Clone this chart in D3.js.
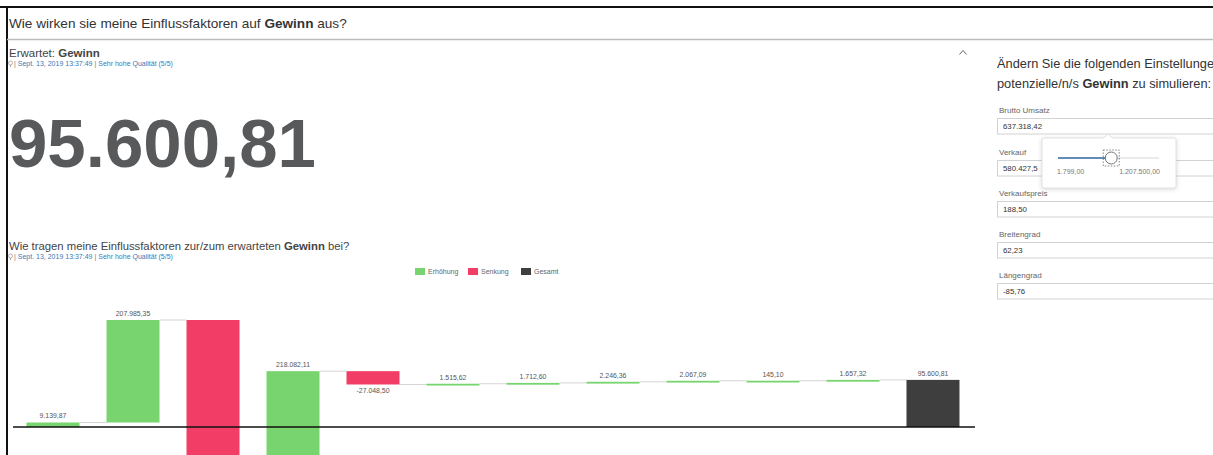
<!DOCTYPE html>
<html>
<head>
<meta charset="utf-8">
<script src="https://cdn.jsdelivr.net/npm/d3@7"></script>
<style>
body { margin: 0; background: #fff; overflow: hidden; }
svg { display: block; font-family: "Liberation Sans", Arial, sans-serif; }
</style>
</head>
<body>
<script>
const width = 1213;
const height = 455;

// waterfall data
const categories = ["Basis", "Faktor 1", "Faktor 2", "Faktor 3", "Faktor 4", "Faktor 5",
  "Faktor 6", "Faktor 7", "Faktor 8", "Faktor 9", "Faktor 10", "Gesamt"];
const changes = [9139.87, 207985.35, -321902.11, 218082.11, -27048.50, 1515.62,
  1712.60, 2246.36, 2067.09, 145.10, 1657.32];
const total = 95600.81;
const legendLabels = ["Erhöhung", "Senkung", "Gesamt"];

// settings panel
const fieldLabels = ["Brutto Umsatz", "Verkauf", "Verkaufspreis", "Breitengrad", "Längengrad"];
const fieldValues = ["637.318,42", "580.427,5", "188,50", "62,23", "-85,76"];
const sliderRange = [1799, 1207500];
const sliderValue = 637318.42;

const colors = {inc: "#78d46e", dec: "#f23d67", total: "#3e3e3e"};
const de = d3.formatLocale({decimal: ",", thousands: ".", grouping: [3], currency: ["", " €"], minus: "-"});
const fmt = de.format(",.2f");

const svg = d3.select("body").append("svg")
  .attr("width", width)
  .attr("height", height);

// frame
svg.append("rect").attr("x", 0).attr("y", 6).attr("width", width).attr("height", 2).attr("fill", "#111");
svg.append("rect").attr("x", 6).attr("y", 6).attr("width", 2).attr("height", height).attr("fill", "#111");
svg.append("line").attr("x1", 7).attr("x2", width).attr("y1", 39.5).attr("y2", 39.5)
  .attr("stroke", "#bbb").attr("stroke-width", 1.5);

// page title
const title = svg.append("text").attr("x", 9).attr("y", 28)
  .attr("font-size", 13.6).attr("fill", "#333");
title.append("tspan").text("Wie wirken sie meine Einflussfaktoren auf ");
title.append("tspan").attr("font-weight", "bold").text("Gewinn");
title.append("tspan").text(" aus?");

function subline(y) {
  const g = svg.append("g");
  // little bulb icon
  g.append("circle").attr("cx", 10.5).attr("cy", y - 3).attr("r", 2)
    .attr("fill", "none").attr("stroke", "#999").attr("stroke-width", 0.7);
  g.append("line").attr("x1", 10.5).attr("x2", 10.5).attr("y1", y - 1).attr("y2", y + 1)
    .attr("stroke", "#999").attr("stroke-width", 0.8);
  const t = g.append("text").attr("x", 14).attr("y", y).attr("font-size", 7).attr("fill", "#3f78b4");
  t.append("tspan").attr("fill", "#777").text("| ");
  t.append("tspan").text("Sept. 13, 2019 13:37:49 ");
  t.append("tspan").attr("fill", "#777").text("| ");
  t.append("tspan").text("Sehr hohe Qualität (5/5)");
}

const exp = svg.append("text").attr("x", 9).attr("y", 57).attr("font-size", 11.5).attr("fill", "#444");
exp.append("tspan").text("Erwartet: ");
exp.append("tspan").attr("font-weight", "bold").text("Gewinn");
subline(66);

// caret
svg.append("path").attr("d", "M959.5,54.5 L963,50.5 L966.5,54.5")
  .attr("fill", "none").attr("stroke", "#666").attr("stroke-width", 1);

// KPI
svg.append("text").attr("x", 9).attr("y", 167)
  .attr("font-size", 69).attr("font-weight", "bold").attr("fill", "#58595b")
  .text(fmt(total));

// chart title
const ct = svg.append("text").attr("x", 9).attr("y", 250).attr("font-size", 11.3).attr("fill", "#444");
ct.append("tspan").text("Wie tragen meine Einflussfaktoren zur/zum erwarteten ");
ct.append("tspan").attr("font-weight", "bold").text("Gewinn");
ct.append("tspan").text(" bei?");
subline(259);

// legend
const legendX = [415, 468, 521];
const legendColors = [colors.inc, colors.dec, colors.total];
const legend = svg.append("g").selectAll("g").data(legendLabels).join("g")
  .attr("transform", (d, i) => `translate(${legendX[i]},268)`);
legend.append("rect").attr("width", 10).attr("height", 7).attr("fill", (d, i) => legendColors[i]);
legend.append("text").attr("x", 13).attr("y", 6.3).attr("font-size", 7).attr("fill", "#666").text(d => d);

// waterfall steps
let run = 0;
const steps = changes.map((v, i) => {
  const s = run;
  run += v;
  return {cat: categories[i], start: s, end: run, value: v, type: v >= 0 ? "inc" : "dec"};
});
steps.push({cat: categories[11], start: 0, end: total, value: total, type: "total"});

const x = d3.scaleBand().domain(categories).range([13, 973])
  .paddingInner(0.3375).paddingOuter(0.169);
const y = d3.scaleLinear()
  .domain([0, d3.max(steps, d => Math.max(d.start, d.end))])
  .range([427, 320]);

const chart = svg.append("g");

// connectors
chart.append("g").selectAll("line").data(steps.slice(0, -1)).join("line")
  .attr("x1", d => x(d.cat) + x.bandwidth())
  .attr("x2", (d, i) => x(steps[i + 1].cat))
  .attr("y1", d => y(d.end))
  .attr("y2", d => y(d.end))
  .attr("stroke", "#d4d4d4")
  .attr("stroke-width", 1);

// bars
chart.append("g").selectAll("rect").data(steps).join("rect")
  .attr("x", d => x(d.cat))
  .attr("width", x.bandwidth())
  .attr("y", d => y(Math.max(d.start, d.end)))
  .attr("height", d => Math.max(1.8, Math.abs(y(d.start) - y(d.end))))
  .attr("fill", d => colors[d.type]);

// baseline
chart.append("line")
  .attr("x1", 13).attr("x2", 975)
  .attr("y1", y(0)).attr("y2", y(0))
  .attr("stroke", "#111").attr("stroke-width", 1.6);

// value labels (the one under the deep red bar falls below the view)
const labelY = d => d.type === "dec" ? y(Math.min(d.start, d.end)) + 9 : y(Math.max(d.start, d.end)) - 4;
chart.append("g").selectAll("text").data(steps.filter(d => labelY(d) < height)).join("text")
  .attr("x", d => x(d.cat) + x.bandwidth() / 2)
  .attr("y", labelY)
  .attr("text-anchor", "middle")
  .attr("font-size", 6.9)
  .attr("fill", "#555")
  .text(d => fmt(d.value));

// settings panel
const intro = svg.append("text").attr("x", 997).attr("y", 68).attr("font-size", 12.8).attr("fill", "#333");
intro.append("tspan").text("Ändern Sie die folgenden Einstellungen,");
const intro2 = svg.append("text").attr("x", 997).attr("y", 88).attr("font-size", 12.8).attr("fill", "#333");
intro2.append("tspan").text("potenzielle/n/s ");
intro2.append("tspan").attr("font-weight", "bold").text("Gewinn");
intro2.append("tspan").text(" zu simulieren:");

const fieldTop = [118, 160, 201, 242, 283];
const fields = svg.append("g").selectAll("g").data(fieldLabels).join("g")
  .attr("transform", (d, i) => `translate(997,${fieldTop[i]})`);
fields.append("text").attr("x", 2).attr("y", -5).attr("font-size", 8).attr("fill", "#666").text(d => d);
fields.append("rect").attr("x", 0.5).attr("y", 0.5).attr("width", 260).attr("height", 15.5)
  .attr("fill", "#fff").attr("stroke", "#d2d2d2");
fields.append("text").attr("x", 6).attr("y", 11).attr("font-size", 7.8).attr("fill", "#333")
  .text((d, i) => fieldValues[i]);

// slider popover
const pop = svg.append("g");
pop.append("rect").attr("x", 1042).attr("y", 138).attr("width", 134).attr("height", 50).attr("rx", 2)
  .attr("fill", "#fff").attr("stroke", "#e2e2e2")
  .style("filter", "drop-shadow(0 1px 2px rgba(0,0,0,0.15))");
pop.append("path").attr("d", "M1103,138.5 L1108,134 L1113,138.5").attr("fill", "#fff").attr("stroke", "#e2e2e2");
pop.append("rect").attr("x", 1103.5).attr("y", 138).attr("width", 9).attr("height", 1.5).attr("fill", "#fff");

const sx = d3.scaleLinear().domain(sliderRange).range([1058, 1159]);
pop.append("line").attr("x1", sx.range()[0]).attr("x2", sx.range()[1]).attr("y1", 158).attr("y2", 158)
  .attr("stroke", "#d6d6d6").attr("stroke-width", 1);
pop.append("line").attr("x1", sx.range()[0]).attr("x2", sx(sliderValue)).attr("y1", 158).attr("y2", 158)
  .attr("stroke", "#346ba5").attr("stroke-width", 1.5);
pop.append("rect").attr("x", sx(sliderValue) - 8).attr("y", 150).attr("width", 16).attr("height", 16)
  .attr("fill", "none").attr("stroke", "#555").attr("stroke-width", 0.7).attr("stroke-dasharray", "1.5,1.5");
pop.append("circle").attr("cx", sx(sliderValue)).attr("cy", 158).attr("r", 6)
  .attr("fill", "#fff").attr("stroke", "#777").attr("stroke-width", 1);
pop.append("text").attr("x", sx.range()[0] - 1).attr("y", 174).attr("font-size", 7).attr("fill", "#777")
  .text(fmt(sliderRange[0]));
pop.append("text").attr("x", sx.range()[1] + 1).attr("y", 174).attr("font-size", 7).attr("fill", "#777")
  .attr("text-anchor", "end").text(fmt(sliderRange[1]));
</script>
</body>
</html>
